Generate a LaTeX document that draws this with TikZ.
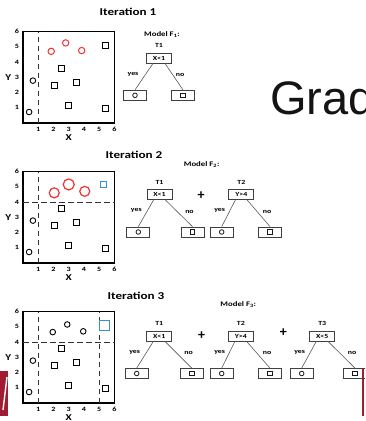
\documentclass[tikz,border=0pt]{standalone}
\usepackage{fontspec}
\setmainfont{Carlito}
\newfontfamily\widefont[FakeStretch=1.25]{Carlito}
\newfontfamily\slidefont{Liberation Sans}
\definecolor{slidered}{RGB}{160,28,50}
\definecolor{ptred}{RGB}{240,50,50}
\definecolor{ptblue}{RGB}{60,140,215}
\tikzset{
  frame/.style={draw=black, line width=1.2pt},
  cutline/.style={draw=black!80, line width=1pt, dash pattern=on 5.5pt off 3.5pt},
  dot/.style={draw=black, line width=0.9pt},
  redpt/.style={draw=ptred, line width=1pt},
  bluept/.style={draw=ptblue, line width=1pt},
  ticklab/.style={font=\widefont\bfseries\fontsize{6.5}{7}\selectfont, inner sep=0},
  axlab/.style={font=\widefont\bfseries\fontsize{9}{10}\selectfont, inner sep=0},
  itertitle/.style={font=\widefont\bfseries\fontsize{10.5}{12}\selectfont, inner sep=0},
  tinytext/.style={font=\widefont\bfseries\fontsize{6.3}{7}\selectfont, inner sep=0},
  modeltext/.style={font=\widefont\bfseries\fontsize{7}{8}\selectfont, inner sep=0},
  split/.style={draw=black!75, line width=0.8pt, minimum width=25pt, minimum height=10pt,
    inner sep=0, font=\widefont\bfseries\fontsize{6.3}{7}\selectfont},
  leaf/.style={draw=black!75, line width=0.8pt, minimum width=23pt, minimum height=10pt, inner sep=0},
  treeedge/.style={draw=black!65, line width=0.6pt},
  leafmark/.style={draw=black!90, line width=0.8pt},
  plussign/.style={font=\bfseries\fontsize{14}{14}\selectfont, inner sep=0},
}
% frame, ticks and the points shared by every scatter plot
% #1 = bottom edge (px), #2 = name prefix
\newcommand\scatterbase[2]{%
  \draw[frame] (0,0) rectangle (6,6);
  \foreach \k in {1,...,6} {
    \node[ticklab] (#2y\k) at (-0.4,\k) {\k};
    \node[ticklab] (#2x\k) at (\k,-0.4) {\k};
  }
  \node[axlab] (#2Y) at (-0.96,3) {Y};
  \node[axlab] (#2X) at (3,-0.93) {X};
  \draw[dot] (0.4,0.72) circle (2.8pt);
  \draw[dot] (0.65,2.78) circle (2.8pt);
  \foreach \px/\py in {2.55/3.58, 2.05/2.45, 3.5/2.65, 3/1.15, 5.4/0.95} {
    \draw[dot] (\px,\py) ++(-3pt,-3pt) rectangle ++(6pt,6pt);
  }
}
% one decision stump: #1 name, #2 root x, #3 root y, #4 test, #5 tag, #6/#7 leaf x
\newcommand\onestump[7]{%
  \node[split] (#1) at (#2,#3) {#4};
  \node[tinytext] (#1t) at (#2,#3-12.5) {#5};
  \node[leaf] (#1a) at (#6,#3+37.3) {};
  \node[leaf] (#1b) at (#7,#3+37.3) {};
  \draw[treeedge] ([xshift=-6pt]#1.south) -- (#1a.north);
  \draw[treeedge] ([xshift=6pt]#1.south) -- (#1b.north);
  \node[tinytext] (#1yes) at (#6-2,#3+16) {yes};
  \node[tinytext] (#1no) at (#7-3,#3+17) {no};
  \draw[leafmark] (#1a.center) circle (2.3pt);
  \draw[leafmark] ([shift={(-2.3pt,-2.3pt)}]#1b.center) rectangle ++(4.6pt,4.6pt);
}
\begin{document}
\begin{tikzpicture}[x=1pt,y=-1pt]
\useasboundingbox (0,0) rectangle (365,421);
\clip (0,0) rectangle (365,421);

% slide heading fragment
\node[font=\slidefont\fontsize{47}{47}\selectfont, text=black!92, anchor=base west, inner sep=0]
  (heading) at (270,114) {Grad};

% slide decorations
\fill[slidered] (0,371) rectangle (8,416);
\draw[white, line width=1.4pt] (7,377) -- (3,410);
\draw[slidered, line width=1.8pt] (363.3,369) -- (363.3,416);

% ---------- iteration 1 ----------
\node[itertitle] (it1) at (128,12) {Iteration 1};
\begin{scope}[shift={(23,123)}, x=15.25pt, y=15.25pt]
  \scatterbase{123}{pa}
  \draw[cutline] (1,0) -- (1,6);
  \draw[dot] (5.4,5.1) ++(-3pt,-3pt) rectangle ++(6pt,6pt);
  \draw[redpt] (1.85,4.7) circle (3.2pt);
  \draw[redpt] (2.8,5.25) circle (3.2pt);
  \draw[redpt] (3.85,4.75) circle (3.2pt);
\end{scope}
\node[modeltext] (m1) at (162,35) {Model F\textsubscript{1}:};
\onestump{ta}{159}{58}{X<1}{T1}{135}{183}

% ---------- iteration 2 ----------
\node[itertitle] (it2) at (134,155) {Iteration 2};
\begin{scope}[shift={(23,263)}, x=15.25pt, y=15.25pt]
  \scatterbase{263}{pb}
  \draw[cutline] (1,0) -- (1,6);
  \draw[cutline] (0,4) -- (6,4);
  \draw[bluept] (5.3,5.15) ++(-3pt,-3pt) rectangle ++(6pt,6pt);
  \draw[redpt, line width=1.2pt] (2.05,4.6) circle (5pt);
  \draw[redpt, line width=1.2pt] (3,5.15) circle (5.5pt);
  \draw[redpt, line width=1.2pt] (4.05,4.7) circle (5pt);
\end{scope}
\node[modeltext] (m2) at (201.7,165) {Model F\textsubscript{2}:};
\onestump{tb}{159.5}{194.7}{X<1}{T1}{138.3}{192.5}
\node[plussign] (pl1) at (201,196) {+};
\onestump{tc}{241.3}{194.7}{Y>4}{T2}{221.7}{270}

% ---------- iteration 3 ----------
\node[itertitle] (it3) at (136,296) {Iteration 3};
\begin{scope}[shift={(23,403)}, x=15.25pt, y=15.25pt]
  \scatterbase{403}{pc}
  \draw[cutline] (1,0) -- (1,6);
  \draw[cutline] (5,0) -- (5,6);
  \draw[cutline] (0,4) -- (6,4);
  \draw[bluept] (5.35,5.1) ++(-5pt,-5pt) rectangle ++(10pt,10pt);
  \draw[dot] (1.95,4.65) circle (2.8pt);
  \draw[dot] (2.9,5.15) circle (2.8pt);
  \draw[dot] (3.95,4.7) circle (2.8pt);
\end{scope}
\node[modeltext] (m3) at (238.3,305) {Model F\textsubscript{3}:};
\onestump{td}{159.2}{336.2}{X<1}{T1}{136.7}{191.7}
\node[plussign] (pl2) at (201.7,336) {+};
\onestump{te}{240.8}{336.2}{Y>4}{T2}{221.7}{270}
\node[plussign] (pl3) at (283.3,333) {+};
\onestump{tf}{322.2}{336.2}{X<5}{T3}{301.7}{355}
\end{tikzpicture}
\end{document}
